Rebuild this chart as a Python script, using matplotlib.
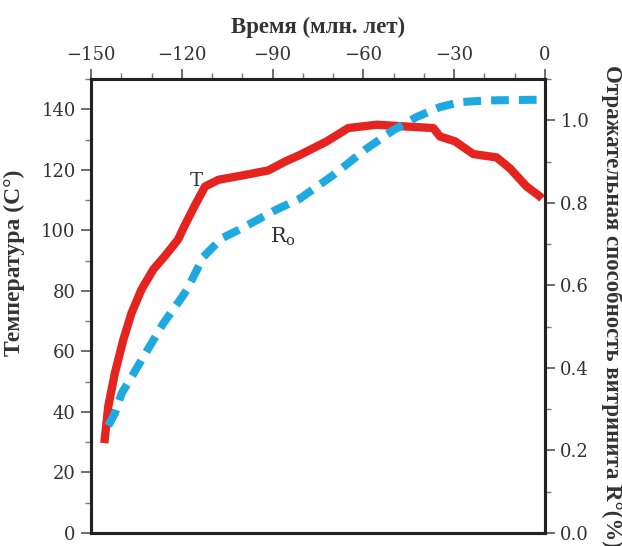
import matplotlib
matplotlib.use('Agg')
import matplotlib.pyplot as plt
from matplotlib.ticker import MultipleLocator

# temperature curve T (left axis)
t_time = [-145.6, -144.3, -142.1, -139.3, -136.6, -133.3, -129.4, -125.6, -121.2, -119.5,
          -115.6, -112.3, -107.9, -100.2, -91.4, -85.9, -81.0, -72.1, -65.0, -55.6,
          -45.7, -36.9, -34.7, -29.7, -23.7, -16.0, -11.6, -6.1, -1.7, -1.0]
t_vals = [29.7, 41.8, 52.9, 63.9, 72.7, 80.5, 87.1, 91.5, 97.0, 100.7,
          108.4, 114.5, 116.7, 118.1, 119.8, 122.7, 124.9, 129.4, 133.8, 134.9,
          134.3, 133.8, 131.0, 129.4, 125.2, 124.1, 120.5, 114.5, 111.2, 110.5]

# vitrinite reflectance Ro (right axis)
r_time = [-144.3, -142.1, -139.9, -136.6, -132.7, -129.4, -126.1, -122.2, -118.4, -115.6,
          -112.9, -106.8, -100.2, -89.2, -81.0, -70.0, -59.0, -50.1, -42.4, -34.7,
          -28.1, -19.3, -0.6]
r_vals = [0.26, 0.290, 0.338, 0.378, 0.427, 0.467, 0.508, 0.548, 0.588, 0.629,
          0.669, 0.714, 0.738, 0.782, 0.810, 0.867, 0.931, 0.976, 1.008, 1.032,
          1.044, 1.048, 1.050]

RED = '#e52420'
BLUE = '#1ea9e1'
TICK_FONT = 'DejaVu Serif'
LABEL_FONT = 'Liberation Serif'

plt.rcParams['mathtext.fontset'] = 'dejavuserif'

fig = plt.figure(figsize=(6.22, 5.46), dpi=100)
ax = fig.add_axes([0.1463, 0.0238, 0.7299, 0.8315])
ax2 = ax.twinx()

ax.plot(t_time, t_vals, color=RED, lw=6, solid_capstyle='butt', zorder=3)
ax2.plot(r_time, r_vals, color=BLUE, lw=5.8, dashes=(2.2, 1.25), zorder=2)

ax.set_xlim(-150, 0)
ax.set_ylim(0, 150)
ax2.set_ylim(0, 1.1)

ax.xaxis.tick_top()
ax.xaxis.set_label_position('top')
ax.xaxis.set_major_locator(MultipleLocator(30))
ax.xaxis.set_minor_locator(MultipleLocator(10))
ax.yaxis.set_major_locator(MultipleLocator(20))
ax.yaxis.set_minor_locator(MultipleLocator(10))
ax2.yaxis.set_major_locator(MultipleLocator(0.2))
ax2.yaxis.set_minor_locator(MultipleLocator(0.1))
ax2.yaxis.set_major_formatter(lambda v, p: f'{v:.1f}')
ax.xaxis.set_major_formatter(lambda v, p: f'{int(v)}'.replace('-', '\u2212'))

for a in (ax, ax2):
    a.tick_params(which='major', length=7, width=1.2, color='#555555', pad=4)
    a.tick_params(which='minor', length=4, width=1.0, color='#777777')
    for lbl in a.get_xticklabels() + a.get_yticklabels():
        lbl.set_fontfamily(TICK_FONT)
        lbl.set_fontsize(13)
        lbl.set_color('#333333')
    for s in a.spines.values():
        s.set_linewidth(2.2)
        s.set_color('#222222')

ax.set_xlabel('Время (млн. лет)', fontfamily=LABEL_FONT, fontweight='bold',
              fontsize=16.5, color='#333333', labelpad=9)
ax.set_ylabel('Температура (C°)', fontfamily=LABEL_FONT, fontweight='bold',
              fontsize=17, color='#333333')
ax.yaxis.set_label_coords(-0.145, 0.595)
ax2.set_ylabel('Отражательная способность витринита R°(%)', fontfamily=LABEL_FONT,
               fontweight='bold', fontsize=16.5, color='#333333', rotation=270,
               va='center')
ax2.yaxis.set_label_coords(1.148, 0.5)

ax.text(-115.3, 116.2, 'T', fontfamily=TICK_FONT, fontsize=14, color='#333333',
        ha='center', va='center')
ax.text(-86.6, 97.7, r'$\mathrm{R_o}$', fontsize=15, color='#333333',
        ha='center', va='center')

fig.savefig('out.png', dpi=100)
